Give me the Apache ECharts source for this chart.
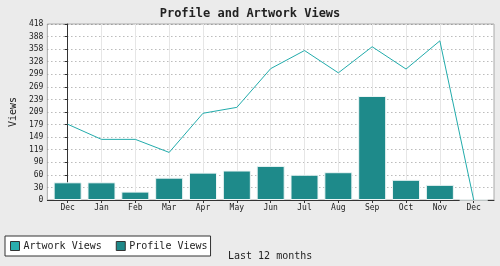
<!DOCTYPE html>
<html><head><meta charset="utf-8">
<script src="https://cdn.jsdelivr.net/npm/echarts@6/dist/echarts.min.js"></script>
<style>html,body{margin:0;padding:0;background:#ebebeb}#c{width:500px;height:266px}</style>
</head><body><div id="c"></div>
<script>
const months = ['Dec','Jan','Feb','Mar','Apr','May','Jun','Jul','Aug','Sep','Oct','Nov','Dec'];
const artworkViews = [180,144,144,113,206,220,312,355,302,364,311,378,0];
const profileViews = [42,42,20,53,65,70,81,60,66,247,48,36,0];
const yMax = 418;
const yTicks = 14;
const F = '"DejaVu Sans Mono", "Liberation Mono", monospace';
const idx = months.map((m,i)=>i);
const chart = echarts.init(document.getElementById('c'), null, {renderer:'canvas'});
chart.setOption({
  backgroundColor:'#ebebeb',
  animation:false,
  title:[
    {text:'Profile and Artwork Views', left:'center', top:3, textStyle:{fontFamily:F, fontSize:12, fontWeight:'bold', color:'#222'}},
    {text:'Last 12 months', left:223, top:246, textStyle:{fontFamily:F, fontSize:10, fontWeight:'normal', color:'#222'}}
  ],
  legend:{
    left:5, top:236, orient:'horizontal',
    backgroundColor:'#fff', borderColor:'#333', borderWidth:1, padding:[5,3,5,5],
    itemWidth:9, itemHeight:9, itemGap:14,
    textStyle:{fontFamily:F, fontSize:10, color:'#222', padding:[0,0,0,-1]},
    data:[
      {name:'Artwork Views', icon:'rect', itemStyle:{color:'#2aadad', borderColor:'#333', borderWidth:1}},
      {name:'Profile Views', icon:'rect', itemStyle:{color:'#1e8888', borderColor:'#333', borderWidth:1}}
    ]
  },
  grid:{left:39, right:6, top:24, bottom:66, show:true, backgroundColor:'#fff', borderColor:'#aaa', borderWidth:1},
  xAxis:{
    type:'value', min:-0.6, max:12.6,
    axisLine:{show:true, onZero:false, lineStyle:{color:'#333'}},
    axisTick:{show:true, customValues:idx, length:3, lineStyle:{color:'#333'}},
    axisLabel:{customValues:idx, formatter:v=>months[Math.round(v)], fontFamily:F, fontSize:8, color:'#222', margin:4},
    splitLine:{show:true, lineStyle:{color:'#e6e6e6', width:1}}
  },
  yAxis:{
    type:'value', min:0, max:yMax, interval:yMax/yTicks,
    name:'Views', nameLocation:'middle', nameGap:26, nameRotate:90,
    nameTextStyle:{fontFamily:F, fontSize:10, color:'#222'},
    axisLine:{show:true, lineStyle:{color:'#333'}},
    axisTick:{show:true, length:3, lineStyle:{color:'#333'}},
    axisLabel:{formatter:v=>String(Math.round(v)), fontFamily:F, fontSize:8, color:'#222', margin:4},
    splitLine:{show:true, lineStyle:{color:'#999', type:[1,3], width:1}}
  },
  series:[
    {name:'Artwork Views', type:'line', data:artworkViews.map((v,i)=>[i,v]), showSymbol:false, symbol:'none',
      lineStyle:{color:'#22abab', width:1}, itemStyle:{color:'#2aadad'}, z:3},
    {name:'Profile Views', type:'bar', data:profileViews.map((v,i)=>[i,v]), barWidth:28,
      itemStyle:{color:'#1e8a8a', borderColor:'#eef6f6', borderWidth:1}, z:2}
  ]
});
</script></body></html>
